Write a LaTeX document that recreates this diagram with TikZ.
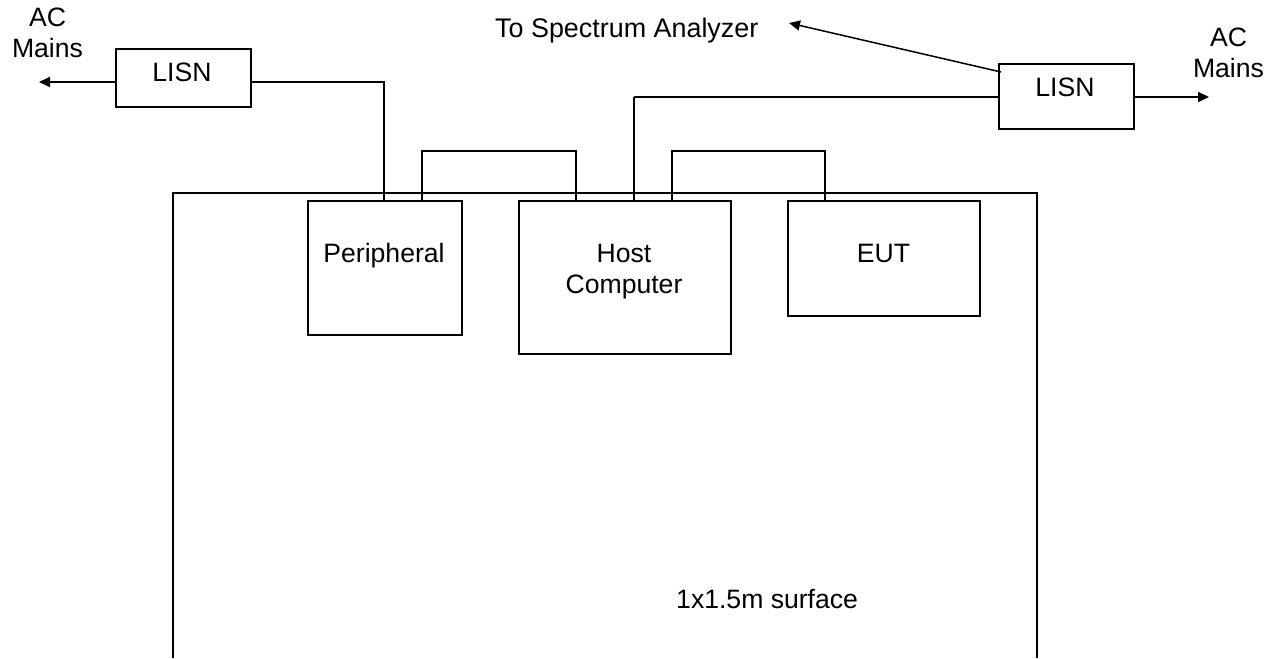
\documentclass[tikz,border=0pt]{standalone}
\usepackage{fontspec}
\setmainfont{Liberation Sans}
\usetikzlibrary{arrows.meta}
\tikzset{
  box/.style={draw=black,line width=2pt,inner sep=0pt,anchor=north west},
  lbl/.style={inner sep=0pt,anchor=base,font=\fontsize{26.6}{31}\selectfont,align=center,text=black},
  wire/.style={draw=black,line width=2pt},
  thinwire/.style={draw=black,line width=1.5pt},
  tip/.style={-{Triangle[length=11pt,width=10pt]}}
}
\begin{document}
\begin{tikzpicture}[x=1pt,y=-1pt]
\useasboundingbox (0,0) rectangle (1273,658);
\draw[line width=2pt] (173,658) -- (173,193) -- (1037,193) -- (1037,658);
\node[box,minimum width=135pt,minimum height=58pt] (lisnL) at (115,48) {};
\node[box,minimum width=135pt,minimum height=65pt] (lisnR) at (998,63) {};
\node[box,minimum width=154pt,minimum height=134pt] (periph) at (307,200) {};
\node[box,minimum width=212pt,minimum height=153pt] (host) at (518,200) {};
\node[box,minimum width=192pt,minimum height=115pt] (eut) at (787,200) {};
\node[lbl] (tLisnL) at (182,82) {LISN};
\node[lbl] (tLisnR) at (1065,97) {LISN};
\node[lbl] (tPeriph) at (384,262) {Peripheral};
\node[lbl] (tHost) at (624,293) {Host\\Computer};
\node[lbl] (tEut) at (883.5,262) {EUT};
\node[lbl] (acL) at (47.5,58) {AC\\Mains};
\node[lbl] (acR) at (1228.5,77.5) {AC\\Mains};
\node[lbl,anchor=base west,font=\fontsize{26.9}{31}\selectfont] (spec) at (495,38) {To Spectrum Analyzer};
\node[lbl,anchor=base west] (surf) at (676,608) {1x1.5m surface};
\coordinate (mainsL) at (39,82);
\coordinate (mainsR) at (1209,97);
\coordinate (specEnd) at (789,23);
\coordinate (specStart) at (1001,72);
\coordinate (p1) at (384,200);
\coordinate (p2) at (422,200);
\coordinate (h1) at (576,200);
\coordinate (h2) at (634,200);
\coordinate (h3) at (672,200);
\coordinate (e1) at (825,200);
\coordinate (lisnLe) at (250,82);
\coordinate (lisnLw) at (115,82);
\coordinate (lisnRw) at (998,97);
\coordinate (lisnRe) at (1133,97);
\coordinate (top) at (0,151);
\draw[wire,tip] (lisnLw) -- (mainsL);
\draw[wire] (lisnLe) -| (p1);
\draw[wire] (p2) |- (top -| h1) -- (h1);
\draw[wire] (h3) |- (top -| e1) -- (e1);
\draw[wire] (lisnRw) -- (lisnRw -| h2);
\draw[thinwire] (lisnRw -| h2) -- (h2);
\draw[wire,tip] (lisnRe) -- (mainsR);
\draw[thinwire,tip] (specStart) -- (specEnd);
\end{tikzpicture}
\end{document}
